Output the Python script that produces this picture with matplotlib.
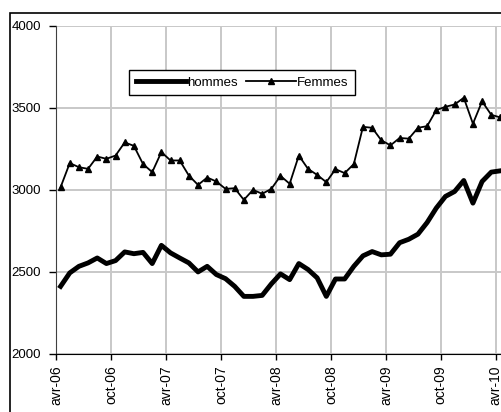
import numpy as np
import matplotlib
matplotlib.use('Agg')
import matplotlib.pyplot as plt
from matplotlib.patches import Rectangle

# monthly values, avr-06 .. avr-10
hommes = [2412, 2494, 2534, 2555, 2585, 2551, 2569, 2622, 2611, 2619, 2551, 2662,
          2616, 2585, 2555, 2500, 2534, 2484, 2459, 2412, 2351, 2351, 2357, 2427,
          2488, 2453, 2551, 2515, 2464, 2351, 2457, 2457, 2534, 2598, 2624, 2604,
          2608, 2678, 2699, 2730, 2801, 2889, 2960, 2990, 3057, 2919, 3051, 3108,
          3116]
femmes = [3016, 3163, 3138, 3128, 3203, 3189, 3209, 3289, 3268, 3157, 3108, 3230,
          3179, 3179, 3087, 3030, 3075, 3051, 3006, 3010, 2939, 3000, 2976, 3006,
          3085, 3037, 3209, 3128, 3091, 3047, 3126, 3102, 3157, 3384, 3378, 3302,
          3271, 3316, 3312, 3378, 3388, 3486, 3506, 3520, 3561, 3403, 3539, 3457,
          3441]
tick_labels = ['avr-06', 'oct-06', 'avr-07', 'oct-07', 'avr-08',
               'oct-08', 'avr-09', 'oct-09', 'avr-10']

plt.rcParams['font.family'] = ['Liberation Sans', 'DejaVu Sans']

W, H = 502, 412
fig = plt.figure(figsize=(W / 100, H / 100), dpi=100)

# outer chart frame (cropped at right and bottom)
fig.patches.append(Rectangle((10.5 / W, -0.1), 1.2, 1 - 13.5 / H + 0.1,
                             transform=fig.transFigure, fill=False,
                             edgecolor='black', linewidth=1.2))

ax = fig.add_axes([56 / W, 58 / H, 449 / W, 328.3 / H])

x = np.arange(len(hommes)) + 0.5
ax.plot(x, hommes, color='black', linewidth=3.5, solid_joinstyle='round',
        label='hommes', zorder=3)
ax.plot(x, femmes, color='black', linewidth=1.3, marker='^', markersize=4.5,
        label='Femmes', zorder=3)

ax.set_xlim(0, 49)
ax.set_ylim(2000, 4000)
ax.set_yticks([2000, 2500, 3000, 3500, 4000])
ax.set_xticks(np.arange(0, 49, 6))
ax.set_xticklabels(tick_labels, rotation=90, fontsize=10)
ax.tick_params(axis='y', labelsize=9.5, length=5, width=1, direction='out', pad=6)
ax.tick_params(axis='x', length=4, width=1, direction='out', pad=4)

ax.grid(True, color='#c8c8c8', linewidth=1.4)
ax.set_axisbelow(True)
for s in ['top', 'right']:
    ax.spines[s].set_visible(False)
ax.spines['left'].set_color('#404040')
ax.spines['bottom'].set_color('black')

leg = ax.legend(loc='center', bbox_to_anchor=(242 / W, 1 - 82.5 / H),
                bbox_transform=fig.transFigure, ncol=2, fontsize=9.5,
                frameon=True, fancybox=False, framealpha=1, edgecolor='black',
                handlelength=3.8, handletextpad=0.1, columnspacing=0.6,
                borderpad=0.5, borderaxespad=0)
leg.get_frame().set_linewidth(1.0)

fig.savefig('out.png', dpi=100)
